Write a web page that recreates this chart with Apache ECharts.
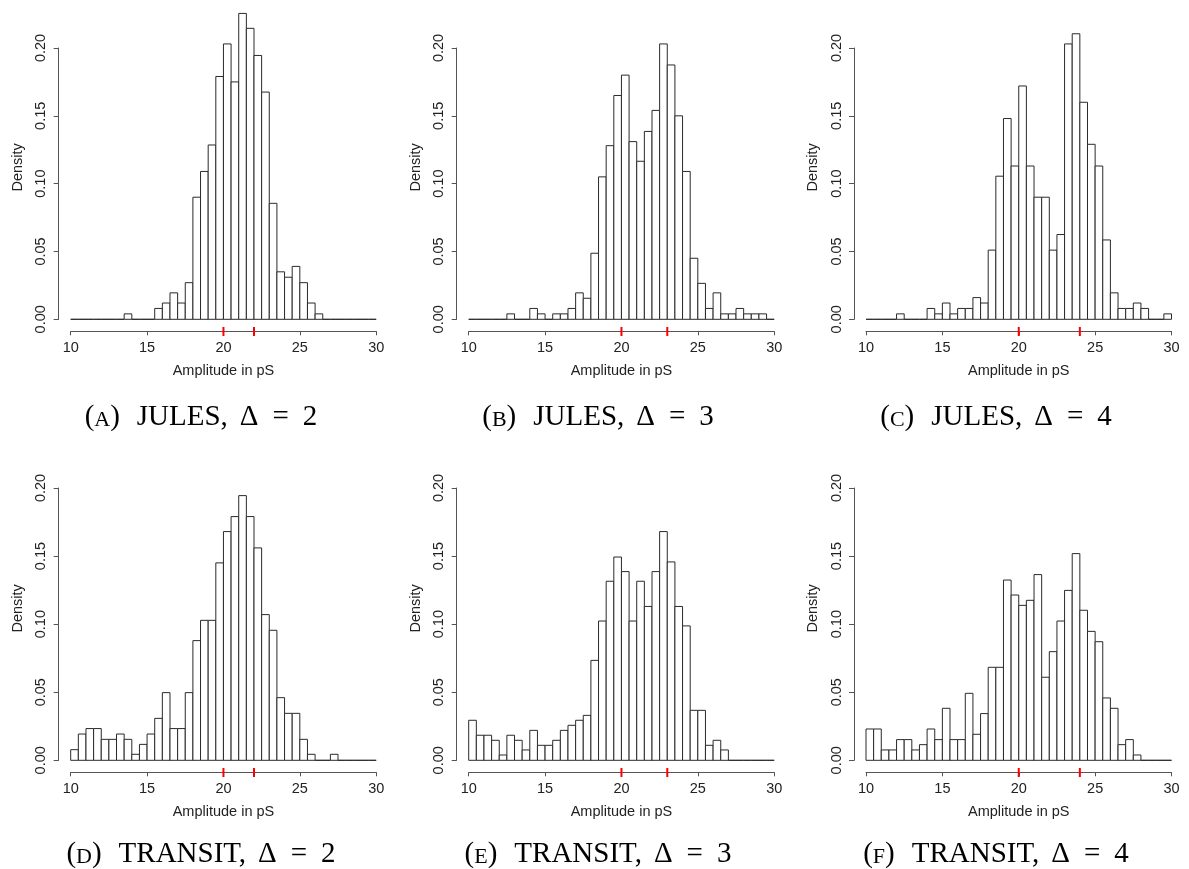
<!DOCTYPE html>
<html>
<head>
<meta charset="utf-8">
<script src="https://cdn.jsdelivr.net/npm/echarts@6/dist/echarts.min.js"></script>
<style>html,body{margin:0;padding:0;background:#fff}#chart{width:1189px;height:869px}</style>
</head>
<body>
<div id="chart"></div>
<script>
// ---- data ----
const binStarts = [10,10.5,11,11.5,12,12.5,13,13.5,14,14.5,15,15.5,16,16.5,17,17.5,18,18.5,19,19.5,20,20.5,21,21.5,22,22.5,23,23.5,24,24.5,25,25.5,26,26.5,27,27.5,28,28.5,29,29.5];
const binWidth = 0.5;
const densityJules2 = [0,0,0,0,0,0,0,0.004,0,0,0,0.008,0.012,0.0195,0.012,0.027,0.090,0.109,0.1285,0.179,0.203,0.175,0.2255,0.2145,0.1945,0.1675,0.0855,0.035,0.031,0.039,0.027,0.012,0.004,0,0,0,0,0,0,0];
const densityJules3 = [0,0,0,0,0,0.004,0,0,0.008,0.004,0,0.004,0.004,0.008,0.0195,0.0155,0.0487,0.105,0.128,0.165,0.180,0.131,0.1165,0.1385,0.154,0.203,0.1875,0.150,0.109,0.045,0.0265,0.008,0.0195,0.004,0.004,0.008,0.004,0.004,0.004,0];
const densityJules4 = [0,0,0,0,0.004,0,0,0,0.008,0.004,0.012,0.004,0.008,0.008,0.016,0.012,0.051,0.1055,0.148,0.113,0.172,0.113,0.090,0.090,0.051,0.0625,0.203,0.2105,0.160,0.129,0.113,0.0585,0.0195,0.008,0.008,0.012,0.008,0,0,0.004];
const densityTransit2 = [0.0078,0.0193,0.0233,0.0233,0.0154,0.0154,0.0193,0.0154,0.0044,0.0117,0.0193,0.0308,0.0497,0.0233,0.0233,0.0497,0.0879,0.1028,0.1028,0.145,0.168,0.179,0.1944,0.179,0.156,0.107,0.0955,0.046,0.0345,0.0345,0.0154,0.0044,0,0,0.0044,0,0,0,0,0];
const densityTransit3 = [0.0294,0.0184,0.0184,0.0147,0.0039,0.0184,0.0147,0.0076,0.022,0.011,0.011,0.0147,0.022,0.0257,0.0294,0.033,0.0734,0.1023,0.1315,0.1493,0.1386,0.1023,0.1315,0.113,0.1386,0.168,0.1457,0.113,0.0987,0.0367,0.0367,0.011,0.0147,0.0076,0,0,0,0,0,0];
const densityTransit4 = [0.023,0.023,0.0076,0.0076,0.0152,0.0152,0.0076,0.0115,0.023,0.0152,0.0382,0.0152,0.0152,0.0492,0.0191,0.0343,0.0683,0.0683,0.1324,0.1214,0.1138,0.1175,0.1364,0.061,0.0798,0.1023,0.1248,0.1518,0.1102,0.0947,0.0871,0.0458,0.0382,0.0115,0.0152,0.0039,0,0,0,0];
const markersJules2 = [20, 22];
const markersJules3 = [20, 23];
const markersJules4 = [20, 24];
const markersTransit2 = [20, 22];
const markersTransit3 = [20, 23];
const markersTransit4 = [20, 24];
const xTicks = [10, 15, 20, 25, 30];
const yTicks = [0, 0.05, 0.10, 0.15, 0.20];
const panelLetters = ['A','B','C','D','E','F'];
const methodNames = ['JULES','JULES','JULES','TRANSIT','TRANSIT','TRANSIT'];
const deltaValues = [2, 3, 4, 2, 3, 4];
const xLabel = 'Amplitude in pS';
const yLabel = 'Density';

// ---- layout ----
const densities = [densityJules2, densityJules3, densityJules4, densityTransit2, densityTransit3, densityTransit4];
const markers = [markersJules2, markersJules3, markersJules4, markersTransit2, markersTransit3, markersTransit4];
const colLeft = [70.7, 468.7, 866];
const colCaption = [201, 598, 996];
const gridW = 305.5;
const rowTop = [48, 488];
const rowH = [271.3, 272.3];
const rowCaption = [417, 854];
const sansFont = 'Liberation Sans, Arial, sans-serif';
const serifFont = 'Liberation Serif, Times New Roman, serif';
const fs = 14.5;

const grids = [], xAxes = [], yAxes = [], series = [], graphics = [];
for (let k = 0; k < 6; k++) {
  const c = k % 3, r = Math.floor(k / 3);
  grids.push({left: colLeft[c], top: rowTop[r], width: gridW, height: rowH[r], containLabel: false});
  xAxes.push({
    gridIndex: k, type: 'value', min: xTicks[0], max: xTicks[xTicks.length-1], interval: 5,
    offset: 12,
    axisLine: {show: true, onZero: false, lineStyle: {color: '#555', width: 1}},
    axisTick: {show: true, length: 4, lineStyle: {color: '#555'}},
    axisLabel: {show: true, margin: 9, fontSize: fs, color: '#222', fontFamily: sansFont},
    splitLine: {show: false},
    name: xLabel, nameLocation: 'middle', nameGap: 32,
    nameTextStyle: {fontSize: fs, color: '#222', fontFamily: sansFont}
  });
  yAxes.push({
    gridIndex: k, type: 'value', min: yTicks[0], max: yTicks[yTicks.length-1], interval: 0.05,
    offset: 12,
    axisLine: {show: true, lineStyle: {color: '#555', width: 1}},
    axisTick: {show: true, length: 5, lineStyle: {color: '#555'}},
    axisLabel: {show: true, rotate: 90, margin: 10, fontSize: fs, color: '#222', fontFamily: sansFont,
      formatter: v => v.toFixed(2)},
    splitLine: {show: false}
  });
  const dens = densities[k];
  series.push({
    type: 'custom', coordinateSystem: 'cartesian2d', xAxisIndex: k, yAxisIndex: k,
    clip: false, silent: true,
    data: binStarts.map((b, i) => [b, dens[i]]),
    encode: {x: 0, y: 1},
    renderItem: function (params, api) {
      const x0 = api.value(0), h = api.value(1);
      const p0 = api.coord([x0, h]);
      const p1 = api.coord([x0 + binWidth, 0]);
      return {type: 'rect', shape: {x: p0[0], y: p0[1], width: p1[0] - p0[0], height: p1[1] - p0[1]},
        style: {fill: '#fff', stroke: '#2a2a2a', lineWidth: 1}};
    }
  });
  series.push({
    type: 'custom', coordinateSystem: 'cartesian2d', xAxisIndex: k, yAxisIndex: k,
    clip: false, silent: true, z: 5,
    data: markers[k].map(m => [m, 0]),
    encode: {x: 0, y: 1},
    renderItem: function (params, api) {
      const p = api.coord([api.value(0), 0]);
      return {type: 'line', shape: {x1: p[0], y1: p[1] + 7.7, x2: p[0], y2: p[1] + 16.7},
        style: {stroke: '#ff0000', lineWidth: 2}};
    }
  });
  graphics.push({
    type: 'text', x: colLeft[c] - 53, y: rowTop[r] + rowH[r] - 152, rotation: Math.PI / 2,
    style: {text: yLabel, fontSize: fs, fill: '#222', fontFamily: sansFont, align: 'center', verticalAlign: 'middle'}
  });
  graphics.push({
    type: 'text', x: colCaption[c], y: rowCaption[r],
    style: {
      text: '{p|(}{s|' + panelLetters[k] + '}{p|)}{g1| }{p|' + methodNames[k] + ',}{g2| }{p|Δ}{g3| }{p|=}{g3| }{p|' + deltaValues[k] + '}',
      align: 'center', verticalAlign: 'middle',
      rich: {
        p: {fontFamily: serifFont, fontSize: 29, fill: '#000', verticalAlign: 'bottom'},
        s: {fontFamily: serifFont, fontSize: 22, fill: '#000', verticalAlign: 'bottom'},
        g1: {fontFamily: serifFont, fontSize: 29, width: 17, verticalAlign: 'bottom'},
        g2: {fontFamily: serifFont, fontSize: 29, width: 12, verticalAlign: 'bottom'},
        g3: {fontFamily: serifFont, fontSize: 29, width: 14, verticalAlign: 'bottom'}
      }
    }
  });
}

const chart = echarts.init(document.getElementById('chart'), null, {renderer: 'canvas'});
chart.setOption({
  animation: false,
  backgroundColor: '#fff',
  grid: grids, xAxis: xAxes, yAxis: yAxes, series: series, graphic: graphics
});
</script>
</body>
</html>
